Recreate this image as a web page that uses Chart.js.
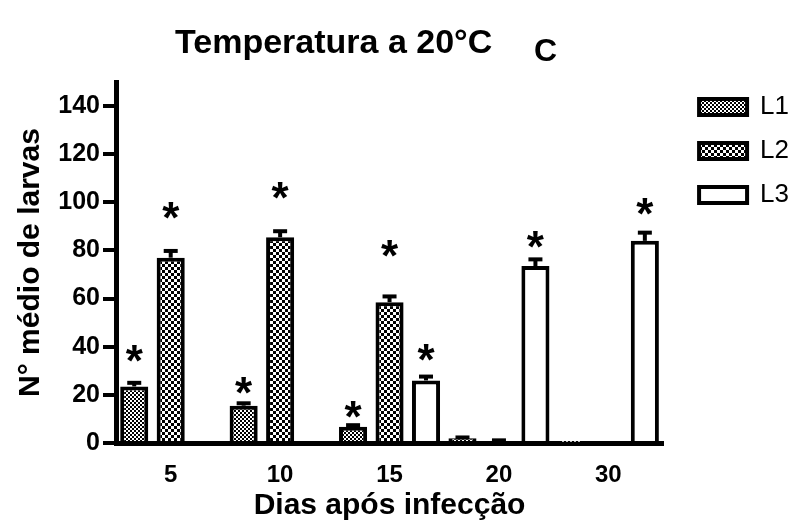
<!DOCTYPE html>
<html>
<head>
<meta charset="utf-8">
<script src="https://cdn.jsdelivr.net/npm/chart.js@4"></script>
<style>
  html, body { margin: 0; padding: 0; background: #fff; }
  canvas { display: block; }
</style>
</head>
<body>
<canvas id="c" width="793" height="522"></canvas>
<script>
// ---------- data ----------
const days = ['5', '10', '15', '20', '30'];
const seriesNames = ['L1', 'L2', 'L3'];

const L1 = [23.5, 15.5, 6.8, 2.0, 0.3];
const L2 = [77.0, 85.5, 58.5, 0.8, 0.0];
const L3 = [0.0, 0.0, 26.0, 73.5, 84.0];

const L1err = [1.5, 1.0, 0.6, 0.3, 0.0];
const L2err = [2.8, 2.5, 2.4, 0.3, 0.0];
const L3err = [0.0, 0.0, 1.6, 2.8, 3.4];

// significance asterisks: value-height where each "*" sits (null = none)
const L1star = [38.5, 25.0, 15.0, null, null];
const L2star = [98.0, 106.0, 82.0, null, null];
const L3star = [null, null, 39.0, 86.0, 99.5];

const yTicks = [0, 20, 40, 60, 80, 100, 120, 140];
const yMax = 150;

const titleText = 'Temperatura a 20°C';
const panelLetter = 'C';
const yTitle = 'N° médio de larvas';
const xTitle = 'Dias após infecção';

// ---------- styles ----------
const FONT = "'Liberation Sans', Arial, Helvetica, sans-serif";
const canvas = document.getElementById('c');
const ctx0 = canvas.getContext('2d');

function checker(cell) {
  const c = document.createElement('canvas');
  c.width = c.height = cell * 2;
  const x = c.getContext('2d');
  x.fillStyle = '#fff';
  x.fillRect(0, 0, cell * 2, cell * 2);
  x.fillStyle = '#000';
  x.fillRect(0, 0, cell, cell);
  x.fillRect(cell, cell, cell, cell);
  return ctx0.createPattern(c, 'repeat');
}
const fills = [checker(2), checker(3), '#ffffff'];

const errs = [L1err, L2err, L3err];
const stars = [L1star, L2star, L3star];

// ---------- plugins ----------
const titlePlugin = {
  id: 'titles',
  afterDraw(chart) {
    const c = chart.ctx;
    c.save();
    c.fillStyle = '#000';
    c.textBaseline = 'alphabetic';
    c.textAlign = 'left';
    c.font = 'bold 34px ' + FONT;
    c.fillText(titleText, 175, 53);
    c.font = 'bold 32px ' + FONT;
    c.fillText(panelLetter, 534, 61);
    c.restore();
  }
};

const errorStarPlugin = {
  id: 'errorsStars',
  afterDatasetsDraw(chart) {
    const c = chart.ctx;
    const y = chart.scales.y;
    c.save();
    chart.data.datasets.forEach((ds, di) => {
      const meta = chart.getDatasetMeta(di);
      meta.data.forEach((bar, i) => {
        const v = ds.data[i];
        const e = errs[di][i];
        const x = bar.x;
        if (e > 0) {
          const y0 = y.getPixelForValue(v);
          const y1 = y.getPixelForValue(v + e);
          c.strokeStyle = '#000';
          c.lineWidth = 4;
          c.lineCap = 'butt';
          c.beginPath();
          c.moveTo(x, y0);
          c.lineTo(x, y1);
          c.stroke();
          c.beginPath();
          c.moveTo(x - 7, y1);
          c.lineTo(x + 7, y1);
          c.stroke();
        }
        const s = stars[di][i];
        if (s !== null && s !== undefined) {
          const size = 44;
          c.font = 'bold ' + size + 'px ' + FONT;
          c.fillStyle = '#000';
          c.textAlign = 'center';
          c.textBaseline = 'alphabetic';
          c.fillText('*', x, y.getPixelForValue(s) + 0.58 * size);
        }
      });
    });
    c.restore();
  }
};

const legendShift = {
  id: 'legendShift',
  afterLayout(chart) {
    const lg = chart.legend;
    if (!lg) return;
    const dx = 18, dy = -6;
    lg.left += dx; lg.right += dx;
    lg.top += dy; lg.bottom += dy;
  }
};

// ---------- chart ----------
new Chart(canvas, {
  type: 'bar',
  data: {
    labels: days,
    datasets: [L1, L2, L3].map((d, i) => ({
      label: seriesNames[i],
      data: d,
      backgroundColor: fills[i],
      borderColor: '#000',
      borderWidth: 4,
      borderSkipped: 'start',
      barPercentage: 0.77,
      categoryPercentage: 1.0
    }))
  },
  options: {
    responsive: false,
    animation: false,
    devicePixelRatio: 1,
    layout: { padding: { top: 82, left: 0, right: 12, bottom: 0 } },
    plugins: {
      title: { display: false },
      tooltip: { enabled: false },
      legend: {
        display: true,
        position: 'right',
        align: 'start',
        labels: {
          color: '#000',
          boxWidth: 48,
          boxHeight: 16,
          padding: 18,
          font: { family: FONT, size: 26, weight: 'normal' }
        }
      }
    },
    scales: {
      x: {
        grid: { display: false, drawTicks: false },
        border: { display: true, color: '#000', width: 5 },
        ticks: {
          color: '#000',
          padding: 18,
          font: { family: FONT, size: 24, weight: 'bold' }
        },
        title: {
          display: true,
          text: xTitle,
          color: '#000',
          font: { family: FONT, size: 30, weight: 'bold', lineHeight: 1 },
          padding: { top: 0, bottom: 1 }
        },
        afterFit(s) { s.height = 79; }
      },
      y: {
        min: 0,
        max: yMax,
        afterBuildTicks(s) { s.ticks = yTicks.map(v => ({ value: v })); },
        grid: { drawOnChartArea: false, drawTicks: true, tickLength: 13, lineWidth: 4, color: '#000' },
        border: { display: true, color: '#000', width: 5 },
        ticks: {
          color: '#000',
          padding: 3,
          font: { family: FONT, size: 25, weight: 'bold' }
        },
        title: {
          display: true,
          text: yTitle,
          color: '#000',
          font: { family: FONT, size: 30, weight: 'bold', lineHeight: 1 },
          padding: { top: 16, bottom: 0 }
        },
        afterFit(s) { s.width = 116; }
      }
    }
  },
  plugins: [titlePlugin, errorStarPlugin, legendShift]
});
</script>
</body>
</html>
